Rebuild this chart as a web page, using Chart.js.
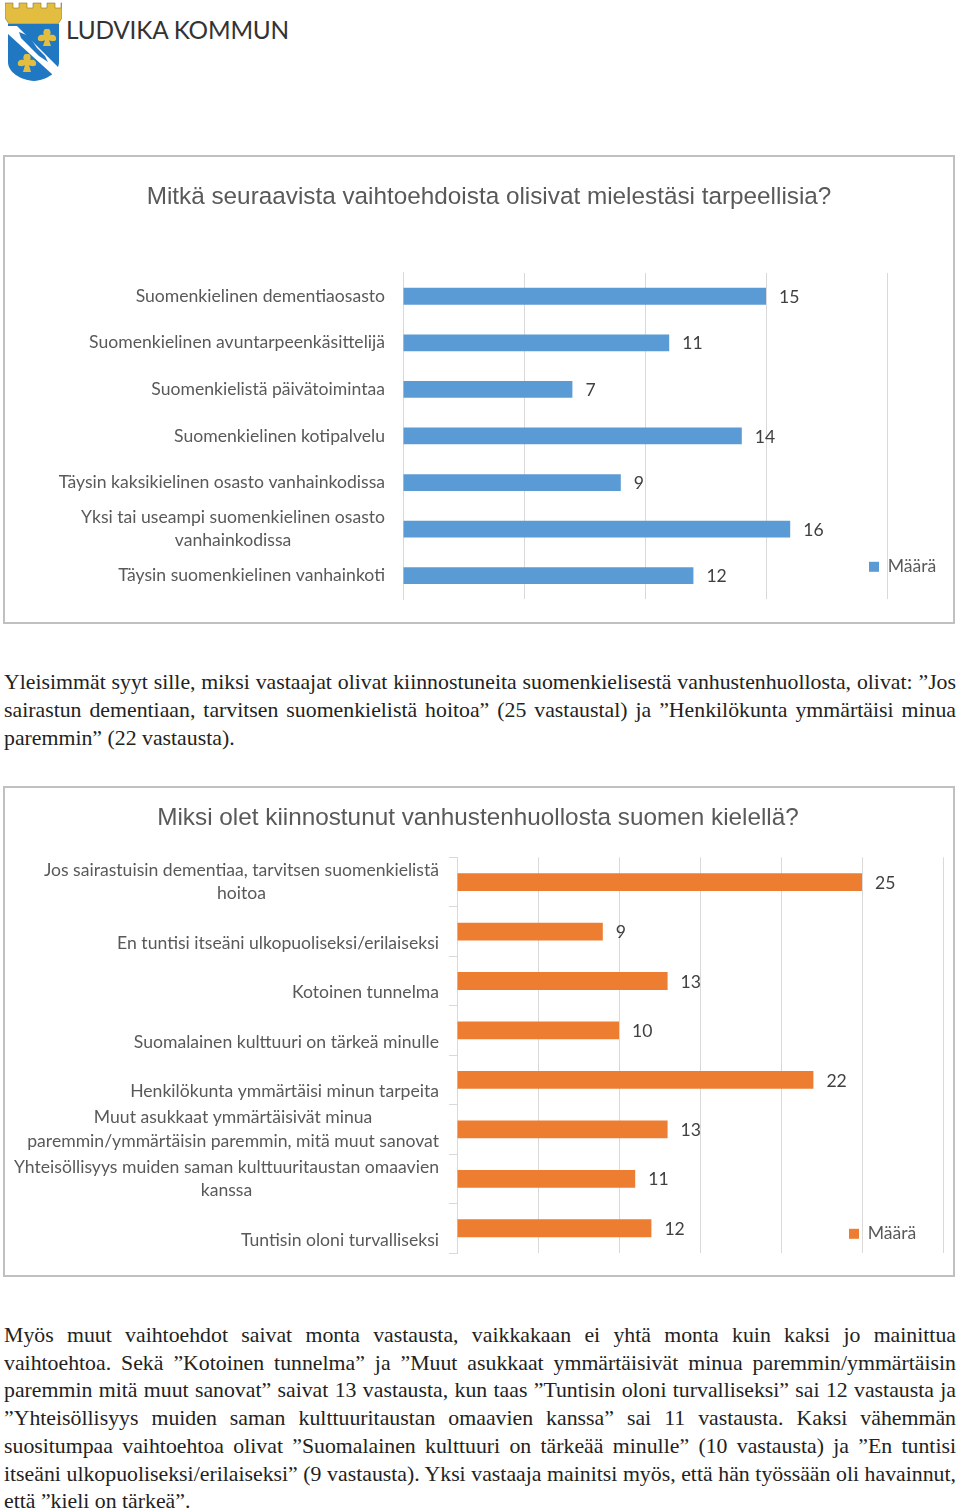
<!DOCTYPE html>
<html lang="fi">
<head>
<meta charset="utf-8">
<title>Ludvika kommun</title>
<script src="https://cdn.jsdelivr.net/npm/chart.js@4"></script>
<style>
    html, body { margin: 0; padding: 0; background: #fff; }
    body { position: relative; width: 960px; height: 1512px; overflow: hidden; }
    .logoText { position: absolute; left: 66px; top: 15px; font: 24.4px Lato, sans-serif; color: #333; letter-spacing: -0.2px; white-space: nowrap; }
    .frame { position: absolute; left: 3px; width: 952px; box-sizing: border-box; border: 2px solid #c0c0c0; background: #fff; }
    .frame canvas { position: absolute; left: -2px; top: -2px; }
    .para { position: absolute; left: 4px; width: 952px; font: 21.8px "Liberation Serif", serif; color: #222; }
    .para div { white-space: nowrap; text-align: justify; text-align-last: justify; }
    .para div.last { text-align-last: left; }
</style>
</head>
<body>
<svg style="position:absolute;left:5px;top:2px" width="57" height="80" viewBox="0 0 57 80">
    <path d="M0 1h8v5h6V1h8v5h6V1h8v5h6V1h8v5h6V1h1v15l-4 6H4l-4-6z" fill="#e3bd3f" stroke="#8a7428" stroke-width=".6"/>
    <path d="M3 22h51v38c0 10-12 18-25 19C15 78 3 70 3 60z" fill="#1f78c1"/>
    <path d="M3 24h9l42 42-6 7L3 32z" fill="#fff"/>
    <path d="M14 30l10 4 8 12 8 8 3 6-9-6-10-10-8-8z" fill="#1f78c1"/>
    <path d="M42 27c-3 3-1 6-1 6-3-1-7 0-6 5 2 2 6 1 7 0l-2 6h8l-2-6c1 1 5 2 7 0 1-5-3-6-6-5 0 0 2-3-1-6z" fill="#e3bd3f" transform="translate(-2 0)"/>
    <path d="M17 52c-3 3-1 6-1 6-3-1-7 0-6 5 2 2 6 1 7 0l-2 7h8l-2-7c1 1 5 2 7 0 1-5-3-6-6-5 0 0 2-3-1-6z" fill="#e3bd3f" transform="translate(3 0)"/>
</svg>
<div class="logoText">LUDVIKA KOMMUN</div>

<div class="frame" style="top:155px;height:469px"><canvas id="chartOne" width="952" height="469"></canvas></div>

<div class="para" style="top:668px;line-height:28px">
    <div>Yleisimmät syyt sille, miksi vastaajat olivat kiinnostuneita suomenkielisestä vanhustenhuollosta, olivat: ”Jos</div>
    <div>sairastun dementiaan, tarvitsen suomenkielistä hoitoa” (25 vastaustal) ja ”Henkilökunta ymmärtäisi minua</div>
    <div class="last">paremmin” (22 vastausta).</div>
</div>

<div class="frame" style="top:786px;height:491px"><canvas id="chartTwo" width="952" height="491"></canvas></div>

<div class="para" style="top:1322px;line-height:27.7px">
    <div>Myös muut vaihtoehdot saivat monta vastausta, vaikkakaan ei yhtä monta kuin kaksi jo mainittua</div>
    <div>vaihtoehtoa. Sekä ”Kotoinen tunnelma” ja ”Muut asukkaat ymmärtäisivät minua paremmin/ymmärtäisin</div>
    <div>paremmin mitä muut sanovat” saivat 13 vastausta, kun taas ”Tuntisin oloni turvalliseksi” sai 12 vastausta ja</div>
    <div>”Yhteisöllisyys muiden saman kulttuuritaustan omaavien kanssa” sai 11 vastausta. Kaksi vähemmän</div>
    <div>suositumpaa vaihtoehtoa olivat ”Suomalainen kulttuuri on tärkeää minulle” (10 vastausta) ja ”En tuntisi</div>
    <div>itseäni ulkopuoliseksi/erilaiseksi” (9 vastausta). Yksi vastaaja mainitsi myös, että hän työssään oli havainnut,</div>
    <div class="last">että ”kieli on tärkeä”.</div>
</div>

<script>
// Chart one, blue bars
const titleOne = 'Mitkä seuraavista vaihtoehdoista olisivat mielestäsi tarpeellisia?';
const categoriesOne = [
    'Suomenkielinen dementiaosasto',
    'Suomenkielinen avuntarpeenkäsittelijä',
    'Suomenkielistä päivätoimintaa',
    'Suomenkielinen kotipalvelu',
    'Täysin kaksikielinen osasto vanhainkodissa',
    ['Yksi tai useampi suomenkielinen osasto', 'vanhainkodissa'],
    'Täysin suomenkielinen vanhainkoti'
];
const valuesOne = [15, 11, 7, 14, 9, 16, 12];

// Chart two, orange bars. Empty first line: the single line labels sit low, as in the original
const titleTwo = 'Miksi olet kiinnostunut vanhustenhuollosta suomen kielellä?';
const categoriesTwo = [
    ['Jos sairastuisin dementiaa, tarvitsen suomenkielistä', 'hoitoa'],
    ['', 'En tuntisi itseäni ulkopuoliseksi/erilaiseksi'],
    ['', 'Kotoinen tunnelma'],
    ['', 'Suomalainen kulttuuri on tärkeä minulle'],
    ['', 'Henkilökunta ymmärtäisi minun tarpeita'],
    ['Muut asukkaat ymmärtäisivät minua', 'paremmin/ymmärtäisin paremmin, mitä muut sanovat'],
    ['Yhteisöllisyys muiden saman kulttuuritaustan omaavien', 'kanssa'],
    ['', 'Tuntisin oloni turvalliseksi']
];
const valuesTwo = [25, 9, 13, 10, 22, 13, 11, 12];

const seriesName = 'Määrä';
const labelFont = { family: 'Lato, sans-serif', size: 17.6, lineHeight: 1.32 };
const titleFont = { family: '"Liberation Sans", sans-serif', size: 24.3, weight: 'normal', lineHeight: 1.2 };
const textColor = '#595959';
const gridColor = '#d9d9d9';

// Writes the value after the end of each bar
const valueLabels = {
    id: 'valueLabels',
    afterDatasetsDraw(chart) {
        const { ctx } = chart;
        const values = chart.data.datasets[0].data;
        ctx.save();
        ctx.font = '17.6px Lato, sans-serif';
        ctx.fillStyle = '#404040';
        ctx.textAlign = 'left';
        ctx.textBaseline = 'middle';
        chart.getDatasetMeta(0).data.forEach((bar, i) => {
            ctx.fillText(values[i], bar.x + 13, bar.y + 1);
        });
        ctx.restore();
    }
};

// Multi line labels are centred on each other but their block stays right aligned
const centreLabelLines = {
    id: 'centreLabelLines',
    beforeDraw(chart) {
        const scale = chart.scales.y;
        const { ctx } = chart;
        ctx.save();
        ctx.font = `${labelFont.size}px ${labelFont.family}`;
        scale.getLabelItems().forEach(item => {
            if (!Array.isArray(item.label)) return;
            const width = Math.max(...item.label.map(line => ctx.measureText(line).width));
            item.options.textAlign = 'center';
            item.options.translation = [item.options.translation[0] - width / 2, item.options.translation[1]];
        });
        ctx.restore();
    }
};

// The legend sits over the plot and the titles are centred on the frame, not the padded box
function placeBoxes(legendX, legendY, titleShift) {
    return {
        id: 'placeBoxes',
        afterLayout(chart) {
            // legend clips to its own box, so all four sides have to move
            chart.legend.left = legendX;
            chart.legend.right = legendX + 80;
            chart.legend.top = legendY;
            chart.legend.bottom = legendY + 30;
            chart.titleBlock.left += titleShift;
            chart.titleBlock.right += titleShift;
        }
    };
}

function createBarChart(id, title, categories, values, settings) {
    return new Chart(document.getElementById(id), {
        type: 'bar',
        data: {
            labels: categories,
            datasets: [{
                label: seriesName,
                data: values,
                backgroundColor: settings.color,
                barPercentage: 1,
                categoryPercentage: settings.barShare
            }]
        },
        options: {
            indexAxis: 'y',
            responsive: false,
            animation: false,
            layout: { padding: { left: 0, top: 0, right: settings.right, bottom: settings.bottom } },
            plugins: {
                tooltip: { enabled: false },
                title: {
                    display: true,
                    text: title,
                    color: textColor,
                    font: titleFont,
                    padding: settings.titlePadding
                },
                legend: {
                    position: 'chartArea',
                    align: 'start',
                    labels: {
                        boxWidth: 10,
                        boxHeight: 10,
                        padding: 0,
                        color: textColor,
                        font: { family: labelFont.family, size: 17.6 }
                    }
                }
            },
            scales: {
                x: {
                    min: 0,
                    max: settings.max,
                    ticks: { display: false, stepSize: 5 },
                    grid: { color: gridColor, drawTicks: false },
                    border: { display: false }
                },
                y: {
                    afterFit: axis => {
                        axis.width = settings.axisWidth;
                        // the labels stay inside the plot, no need to shrink it for them
                        axis.paddingTop = 0;
                        axis.paddingBottom = 0;
                    },
                    ticks: {
                        color: textColor,
                        font: labelFont,
                        padding: settings.tickPadding,
                        autoSkip: false
                    },
                    grid: {
                        drawOnChartArea: false,
                        drawTicks: settings.tickLength > 0,
                        tickLength: settings.tickLength,
                        color: gridColor
                    },
                    border: { color: gridColor }
                }
            }
        },
        plugins: [valueLabels, centreLabelLines, placeBoxes(settings.legendX, settings.legendY, settings.titleShift)]
    });
}

createBarChart('chartOne', titleOne, categoriesOne, valuesOne, {
    color: '#5b9bd5',
    barShare: 0.36,
    max: 20,
    axisWidth: 400,
    right: 68,
    bottom: 25,
    tickPadding: 18,
    tickLength: 0,
    titlePadding: { top: 28, bottom: 60.8 },
    titleShift: 44,
    legendX: 866,
    legendY: 403
});

createBarChart('chartTwo', titleTwo, categoriesTwo, valuesTwo, {
    color: '#ed7d31',
    barShare: 0.36,
    max: 30,
    axisWidth: 454,
    right: 12,
    bottom: 24,
    tickPadding: 10,
    tickLength: 8,
    titlePadding: { top: 18, bottom: 24.2 },
    titleShift: 5,
    legendX: 846,
    legendY: 439
});
</script>
</body>
</html>
